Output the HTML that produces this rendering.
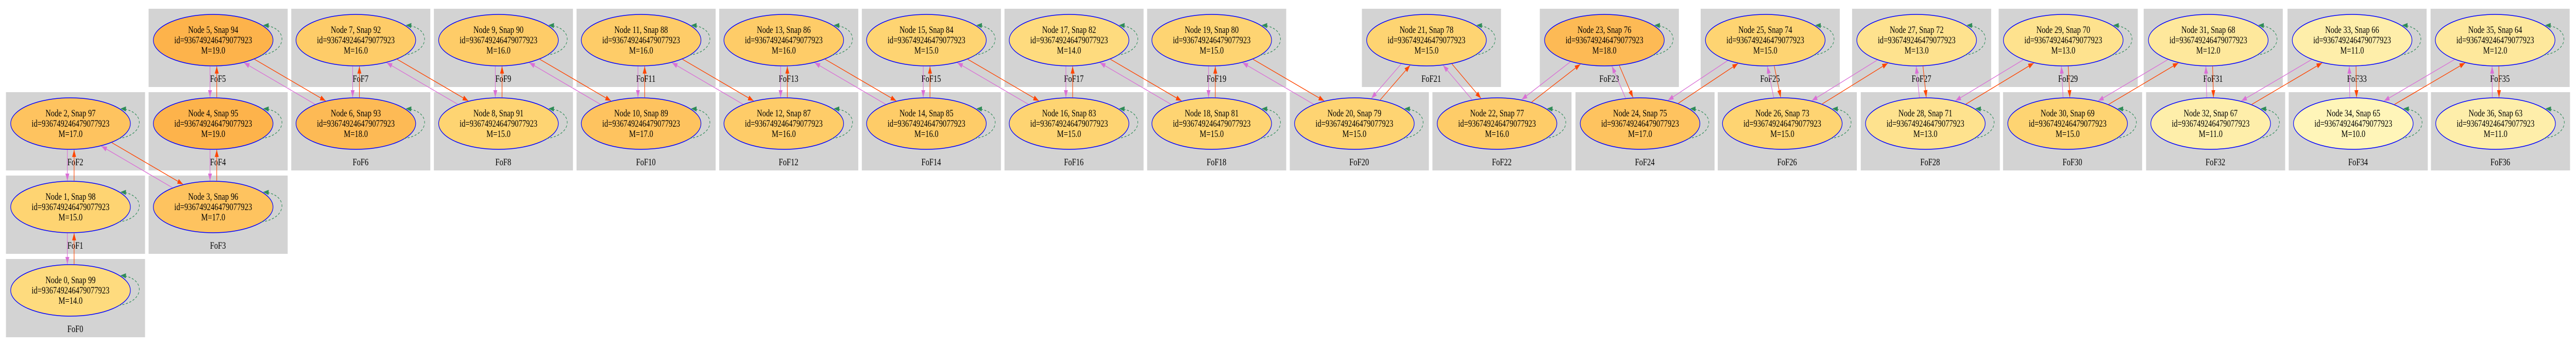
<!DOCTYPE html>
<html><head><meta charset="utf-8"><style>
html,body{margin:0;padding:0;background:#fff;width:100%;height:100%;overflow:hidden;}
svg{display:block;position:absolute;left:0;top:0;width:100vw;height:100vh;}
text{font-family:"Liberation Serif",serif;font-size:19px;fill:#000;text-anchor:middle;}
</style></head><body>
<svg id="s" viewBox="0 0 6501 672" preserveAspectRatio="none" xmlns="http://www.w3.org/2000/svg">
<defs>
<marker id="ao" viewBox="0 0 14 10" refX="14" refY="5" markerWidth="14" markerHeight="10" markerUnits="userSpaceOnUse" orient="auto"><path d="M0,0 L14,5 L0,10 z" fill="#ff4500"/></marker>
<marker id="av" viewBox="0 0 14 10" refX="14" refY="5" markerWidth="14" markerHeight="10" markerUnits="userSpaceOnUse" orient="auto"><path d="M0,0 L14,5 L0,10 z" fill="#da70d6"/></marker>
<marker id="ag" viewBox="0 0 14 10" refX="14" refY="5" markerWidth="14" markerHeight="10" markerUnits="userSpaceOnUse" orient="auto"><path d="M0,0 L14,5 L0,10 z" fill="#2e8b57"/></marker>
</defs>
<g fill="#d3d3d3">
<rect x="15" y="503" width="351" height="152"/><rect x="15" y="341" width="351" height="152"/><rect x="15" y="179" width="351" height="152"/>
<rect x="375" y="341" width="351" height="152"/><rect x="375" y="179" width="351" height="152"/><rect x="375" y="17" width="351" height="152"/>
<rect x="735" y="179" width="351" height="152"/><rect x="735" y="17" width="351" height="152"/>
<rect x="1095" y="179" width="351" height="152"/><rect x="1095" y="17" width="351" height="152"/>
<rect x="1455" y="179" width="351" height="152"/><rect x="1455" y="17" width="351" height="152"/>
<rect x="1815" y="179" width="351" height="152"/><rect x="1815" y="17" width="351" height="152"/>
<rect x="2175" y="179" width="351" height="152"/><rect x="2175" y="17" width="351" height="152"/>
<rect x="2535" y="179" width="351" height="152"/><rect x="2535" y="17" width="351" height="152"/>
<rect x="2895" y="179" width="351" height="152"/><rect x="2895" y="17" width="351" height="152"/>
<rect x="3255" y="179" width="351" height="152"/><rect x="3437" y="17" width="351" height="152"/>
<rect x="3615" y="179" width="351" height="152"/><rect x="3886" y="17" width="351" height="152"/>
<rect x="3976" y="179" width="351" height="152"/><rect x="4292" y="17" width="351" height="152"/>
<rect x="4335" y="179" width="351" height="152"/><rect x="4674" y="17" width="351" height="152"/>
<rect x="4696" y="179" width="351" height="152"/><rect x="5044" y="17" width="351" height="152"/>
<rect x="5055" y="179" width="351" height="152"/><rect x="5410" y="17" width="351" height="152"/>
<rect x="5416" y="179" width="351" height="152"/><rect x="5773" y="17" width="351" height="152"/>
<rect x="5776" y="179" width="351" height="152"/><rect x="6134" y="17" width="351" height="152"/>
<rect x="6135" y="179" width="351" height="152"/>
</g>
<g>
<text x="190" y="645">FoF0</text><text x="190" y="483">FoF1</text><text x="190" y="321">FoF2</text>
<text x="550" y="483">FoF3</text><text x="550" y="321">FoF4</text><text x="550" y="159">FoF5</text>
<text x="910" y="321">FoF6</text><text x="910" y="159">FoF7</text>
<text x="1270" y="321">FoF8</text><text x="1270" y="159">FoF9</text>
<text x="1630" y="321">FoF10</text><text x="1630" y="159">FoF11</text>
<text x="1990" y="321">FoF12</text><text x="1990" y="159">FoF13</text>
<text x="2350" y="321">FoF14</text><text x="2350" y="159">FoF15</text>
<text x="2710" y="321">FoF16</text><text x="2710" y="159">FoF17</text>
<text x="3070" y="321">FoF18</text><text x="3070" y="159">FoF19</text>
<text x="3430" y="321">FoF20</text><text x="3612" y="159">FoF21</text>
<text x="3790" y="321">FoF22</text><text x="4061" y="159">FoF23</text>
<text x="4151" y="321">FoF24</text><text x="4467" y="159">FoF25</text>
<text x="4510" y="321">FoF26</text><text x="4849" y="159">FoF27</text>
<text x="4871" y="321">FoF28</text><text x="5219" y="159">FoF29</text>
<text x="5230" y="321">FoF30</text><text x="5585" y="159">FoF31</text>
<text x="5591" y="321">FoF32</text><text x="5948" y="159">FoF33</text>
<text x="5951" y="321">FoF34</text><text x="6309" y="159">FoF35</text>
<text x="6310" y="321">FoF36</text>
</g>
<g id="edges"></g>
<g stroke="#0000ff" stroke-width="1.5">
<g transform="translate(178,564)"><ellipse rx="151" ry="50" fill="#fedb7e"/><text y="-14" stroke="none">Node 0, Snap 99</text><text y="6" stroke="none">id=936749246479077923</text><text y="26" stroke="none">M=14.0</text></g>
<g transform="translate(178,402)"><ellipse rx="151" ry="50" fill="#fed472"/><text y="-14" stroke="none">Node 1, Snap 98</text><text y="6" stroke="none">id=936749246479077923</text><text y="26" stroke="none">M=15.0</text></g>
<g transform="translate(178,240)"><ellipse rx="151" ry="50" fill="#fec35f"/><text y="-14" stroke="none">Node 2, Snap 97</text><text y="6" stroke="none">id=936749246479077923</text><text y="26" stroke="none">M=17.0</text></g>
<g transform="translate(538,402)"><ellipse rx="151" ry="50" fill="#fec35f"/><text y="-14" stroke="none">Node 3, Snap 96</text><text y="6" stroke="none">id=936749246479077923</text><text y="26" stroke="none">M=17.0</text></g>
<g transform="translate(538,240)"><ellipse rx="151" ry="50" fill="#fdb34b"/><text y="-14" stroke="none">Node 4, Snap 95</text><text y="6" stroke="none">id=936749246479077923</text><text y="26" stroke="none">M=19.0</text></g>
<g transform="translate(538,78)"><ellipse rx="151" ry="50" fill="#fdb34b"/><text y="-14" stroke="none">Node 5, Snap 94</text><text y="6" stroke="none">id=936749246479077923</text><text y="26" stroke="none">M=19.0</text></g>
<g transform="translate(898,240)"><ellipse rx="151" ry="50" fill="#fdba55"/><text y="-14" stroke="none">Node 6, Snap 93</text><text y="6" stroke="none">id=936749246479077923</text><text y="26" stroke="none">M=18.0</text></g>
<g transform="translate(898,78)"><ellipse rx="151" ry="50" fill="#fecc68"/><text y="-14" stroke="none">Node 7, Snap 92</text><text y="6" stroke="none">id=936749246479077923</text><text y="26" stroke="none">M=16.0</text></g>
<g transform="translate(1258,240)"><ellipse rx="151" ry="50" fill="#fed472"/><text y="-14" stroke="none">Node 8, Snap 91</text><text y="6" stroke="none">id=936749246479077923</text><text y="26" stroke="none">M=15.0</text></g>
<g transform="translate(1258,78)"><ellipse rx="151" ry="50" fill="#fecc68"/><text y="-14" stroke="none">Node 9, Snap 90</text><text y="6" stroke="none">id=936749246479077923</text><text y="26" stroke="none">M=16.0</text></g>
<g transform="translate(1618,240)"><ellipse rx="151" ry="50" fill="#fec35f"/><text y="-14" stroke="none">Node 10, Snap 89</text><text y="6" stroke="none">id=936749246479077923</text><text y="26" stroke="none">M=17.0</text></g>
<g transform="translate(1618,78)"><ellipse rx="151" ry="50" fill="#fecc68"/><text y="-14" stroke="none">Node 11, Snap 88</text><text y="6" stroke="none">id=936749246479077923</text><text y="26" stroke="none">M=16.0</text></g>
<g transform="translate(1978,240)"><ellipse rx="151" ry="50" fill="#fecc68"/><text y="-14" stroke="none">Node 12, Snap 87</text><text y="6" stroke="none">id=936749246479077923</text><text y="26" stroke="none">M=16.0</text></g>
<g transform="translate(1978,78)"><ellipse rx="151" ry="50" fill="#fecc68"/><text y="-14" stroke="none">Node 13, Snap 86</text><text y="6" stroke="none">id=936749246479077923</text><text y="26" stroke="none">M=16.0</text></g>
<g transform="translate(2338,240)"><ellipse rx="151" ry="50" fill="#fecc68"/><text y="-14" stroke="none">Node 14, Snap 85</text><text y="6" stroke="none">id=936749246479077923</text><text y="26" stroke="none">M=16.0</text></g>
<g transform="translate(2338,78)"><ellipse rx="151" ry="50" fill="#fed472"/><text y="-14" stroke="none">Node 15, Snap 84</text><text y="6" stroke="none">id=936749246479077923</text><text y="26" stroke="none">M=15.0</text></g>
<g transform="translate(2698,240)"><ellipse rx="151" ry="50" fill="#fed472"/><text y="-14" stroke="none">Node 16, Snap 83</text><text y="6" stroke="none">id=936749246479077923</text><text y="26" stroke="none">M=15.0</text></g>
<g transform="translate(2698,78)"><ellipse rx="151" ry="50" fill="#fedb7e"/><text y="-14" stroke="none">Node 17, Snap 82</text><text y="6" stroke="none">id=936749246479077923</text><text y="26" stroke="none">M=14.0</text></g>
<g transform="translate(3058,240)"><ellipse rx="151" ry="50" fill="#fed472"/><text y="-14" stroke="none">Node 18, Snap 81</text><text y="6" stroke="none">id=936749246479077923</text><text y="26" stroke="none">M=15.0</text></g>
<g transform="translate(3058,78)"><ellipse rx="151" ry="50" fill="#fed472"/><text y="-14" stroke="none">Node 19, Snap 80</text><text y="6" stroke="none">id=936749246479077923</text><text y="26" stroke="none">M=15.0</text></g>
<g transform="translate(3418,240)"><ellipse rx="151" ry="50" fill="#fed472"/><text y="-14" stroke="none">Node 20, Snap 79</text><text y="6" stroke="none">id=936749246479077923</text><text y="26" stroke="none">M=15.0</text></g>
<g transform="translate(3600,78)"><ellipse rx="151" ry="50" fill="#fed472"/><text y="-14" stroke="none">Node 21, Snap 78</text><text y="6" stroke="none">id=936749246479077923</text><text y="26" stroke="none">M=15.0</text></g>
<g transform="translate(3778,240)"><ellipse rx="151" ry="50" fill="#fecc68"/><text y="-14" stroke="none">Node 22, Snap 77</text><text y="6" stroke="none">id=936749246479077923</text><text y="26" stroke="none">M=16.0</text></g>
<g transform="translate(4049,78)"><ellipse rx="151" ry="50" fill="#fdba55"/><text y="-14" stroke="none">Node 23, Snap 76</text><text y="6" stroke="none">id=936749246479077923</text><text y="26" stroke="none">M=18.0</text></g>
<g transform="translate(4139,240)"><ellipse rx="151" ry="50" fill="#fec35f"/><text y="-14" stroke="none">Node 24, Snap 75</text><text y="6" stroke="none">id=936749246479077923</text><text y="26" stroke="none">M=17.0</text></g>
<g transform="translate(4455,78)"><ellipse rx="151" ry="50" fill="#fed472"/><text y="-14" stroke="none">Node 25, Snap 74</text><text y="6" stroke="none">id=936749246479077923</text><text y="26" stroke="none">M=15.0</text></g>
<g transform="translate(4498,240)"><ellipse rx="151" ry="50" fill="#fed472"/><text y="-14" stroke="none">Node 26, Snap 73</text><text y="6" stroke="none">id=936749246479077923</text><text y="26" stroke="none">M=15.0</text></g>
<g transform="translate(4837,78)"><ellipse rx="151" ry="50" fill="#fee28e"/><text y="-14" stroke="none">Node 27, Snap 72</text><text y="6" stroke="none">id=936749246479077923</text><text y="26" stroke="none">M=13.0</text></g>
<g transform="translate(4859,240)"><ellipse rx="151" ry="50" fill="#fee28e"/><text y="-14" stroke="none">Node 28, Snap 71</text><text y="6" stroke="none">id=936749246479077923</text><text y="26" stroke="none">M=13.0</text></g>
<g transform="translate(5207,78)"><ellipse rx="151" ry="50" fill="#fee28e"/><text y="-14" stroke="none">Node 29, Snap 70</text><text y="6" stroke="none">id=936749246479077923</text><text y="26" stroke="none">M=13.0</text></g>
<g transform="translate(5218,240)"><ellipse rx="151" ry="50" fill="#fed472"/><text y="-14" stroke="none">Node 30, Snap 69</text><text y="6" stroke="none">id=936749246479077923</text><text y="26" stroke="none">M=15.0</text></g>
<g transform="translate(5573,78)"><ellipse rx="151" ry="50" fill="#fee89c"/><text y="-14" stroke="none">Node 31, Snap 68</text><text y="6" stroke="none">id=936749246479077923</text><text y="26" stroke="none">M=12.0</text></g>
<g transform="translate(5579,240)"><ellipse rx="151" ry="50" fill="#feeeaa"/><text y="-14" stroke="none">Node 32, Snap 67</text><text y="6" stroke="none">id=936749246479077923</text><text y="26" stroke="none">M=11.0</text></g>
<g transform="translate(5936,78)"><ellipse rx="151" ry="50" fill="#feeeaa"/><text y="-14" stroke="none">Node 33, Snap 66</text><text y="6" stroke="none">id=936749246479077923</text><text y="26" stroke="none">M=11.0</text></g>
<g transform="translate(5939,240)"><ellipse rx="151" ry="50" fill="#fff5b9"/><text y="-14" stroke="none">Node 34, Snap 65</text><text y="6" stroke="none">id=936749246479077923</text><text y="26" stroke="none">M=10.0</text></g>
<g transform="translate(6297,78)"><ellipse rx="151" ry="50" fill="#fee89c"/><text y="-14" stroke="none">Node 35, Snap 64</text><text y="6" stroke="none">id=936749246479077923</text><text y="26" stroke="none">M=12.0</text></g>
<g transform="translate(6298,240)"><ellipse rx="151" ry="50" fill="#feeeaa"/><text y="-14" stroke="none">Node 36, Snap 63</text><text y="6" stroke="none">id=936749246479077923</text><text y="26" stroke="none">M=11.0</text></g>
</g>
<g id="loops"></g>
</svg>
<script>
(function(){
var C=[[178,564],[178,402],[178,240],[538,402],[538,240],[538,78],[898,240],[898,78],[1258,240],[1258,78],[1618,240],[1618,78],[1978,240],[1978,78],[2338,240],[2338,78],[2698,240],[2698,78],[3058,240],[3058,78],[3418,240],[3600,78],[3778,240],[4049,78],[4139,240],[4455,78],[4498,240],[4837,78],[4859,240],[5207,78],[5218,240],[5573,78],[5579,240],[5936,78],[5939,240],[6297,78],[6298,240]];
var RX=152,RY=51,NS="http://www.w3.org/2000/svg";
var eg=document.getElementById("edges"),lg=document.getElementById("loops");
function el(t,a,p){var e=document.createElementNS(NS,t);for(var k in a)e.setAttribute(k,a[k]);p.appendChild(e);return e;}
function hit(P,d,c){var px=(P[0]-c[0])/RX,py=(P[1]-c[1])/RY,dx=d[0]/RX,dy=d[1]/RY;
var a=dx*dx+dy*dy,b=2*(px*dx+py*dy),cc=px*px+py*py-1,D=b*b-4*a*cc;if(D<0)D=0;D=Math.sqrt(D);
return[(-b-D)/(2*a),(-b+D)/(2*a)];}
function line(A,B,off,col,mk){var dx=B[0]-A[0],dy=B[1]-A[1],L=Math.hypot(dx,dy),d=[dx/L,dy/L];
var p=[-d[1],d[0]];var P=[A[0]+p[0]*off,A[1]+p[1]*off];
var t1=hit(P,d,A)[1],t2=hit(P,d,[A[0]+dx,A[1]+dy])[0];
var Q=[P[0]+d[0]*t1,P[1]+d[1]*t1],R=[P[0]+d[0]*t2,P[1]+d[1]*t2];
el("line",{x1:Q[0].toFixed(1),y1:Q[1].toFixed(1),x2:R[0].toFixed(1),y2:R[1].toFixed(1),stroke:col,"stroke-width":"1.4","marker-end":"url(#"+mk+")"},eg);}
for(var n=0;n<36;n++){var A=C[n],B=C[n+1];var s=(B[1]-A[1])<0?1:-1;if(B[1]==A[1])s=1;
line(A,B,9*s,"#ff4500","ao");line(B,A,8*s,"#da70d6","av");}
for(var i=0;i<C.length;i++){var x=C[i][0],y=C[i][1];
el("path",{d:"M"+(x+122)+","+(y+29)+" C"+(x+190)+","+(y+22)+" "+(x+190)+","+(y-26)+" "+(x+126)+","+(y-29),fill:"none",stroke:"#2e8b57","stroke-width":"1.3","stroke-dasharray":"5,4","marker-end":"url(#ag)"},lg);}
})();
</script>
</body></html>
